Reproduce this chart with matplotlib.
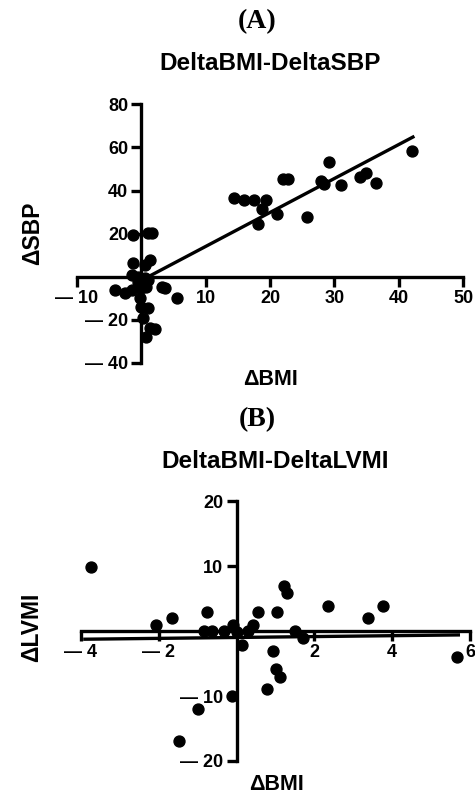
import numpy as np
import matplotlib.pyplot as plt

plt.rcParams['font.family'] = ['Liberation Sans', 'DejaVu Sans']
plt.rcParams['font.weight'] = 'bold'

# (A) DeltaBMI vs DeltaSBP
bmiA = [14.4, 15.9, 17.5, 19.3, 18.7, 18.2, 21.1, 22.0, 22.8, 25.8, 27.9, 28.4,
        29.2, 31.0, 33.9, 34.9, 36.5, 42.1,
        -1.25, 1.1, 1.6, -1.25, 1.4, 0.6, -1.5, -0.5, 0.6, 1.1, -0.5,
        -4.1, -2.5, -1.5, 0.0, 0.8, 3.2, 3.7, 5.5, -0.2, 0.0, 1.1, 0.3,
        1.4, 2.1, 0.8]
sbpA = [36.3, 35.5, 35.5, 35.5, 31.2, 24.4, 29.3, 45.2, 45.2, 27.5, 44.4, 43.2,
        53.2, 42.4, 46.3, 48.1, 43.5, 58.3,
        19.3, 20.4, 20.4, 6.2, 7.7, 5.4, 0.8, 0.0, -0.8, -1.5, -2.3,
        -6.2, -7.7, -6.2, -5.4, -4.6, -4.6, -5.4, -9.7, -10.0, -13.9, -14.6, -19.3,
        -23.9, -24.4, -27.8]
fitA_x = [0.0, 42.2]
fitA_y = [-1.7, 64.8]

# (B) DeltaBMI vs DeltaLVMI
bmiB = [-3.73, -2.06, -1.67, -0.76, -0.84, -0.62, -0.33, -0.10, 0.02, 0.15,
        0.30, 0.43, 0.54, 1.04, 1.22, 1.30, 0.93, 1.00, 1.11, 0.77, 1.50, 1.70,
        2.36, 3.38, 3.77, 5.66, -0.11, -0.99, -1.48]
lvmiB = [9.97, 0.97, 2.0, 3.03, 0.1, 0.1, 0.1, 0.97, -0.05, -2.1,
         0.1, 0.97, 3.03, 3.03, 7.04, 5.96, -2.99, -5.87, -7.0, -8.96, 0.1, -1.08,
         3.96, 2.0, 3.96, -4.0, -9.98, -12.0, -16.9]
fitB_x = [-3.9, 5.7]
fitB_y = [-1.23, -0.57]


def style(ax, xlim, ylim, xticks, xlabels, yticks, ylabels):
    ax.set_xlim(xlim)
    ax.set_ylim(ylim)
    for s in ['top', 'right']:
        ax.spines[s].set_visible(False)
    ax.spines['left'].set_position(('data', 0))
    ax.spines['bottom'].set_position(('data', 0))
    ax.spines['left'].set_linewidth(2.4)
    ax.spines['bottom'].set_linewidth(2.4)
    ax.set_xticks(xticks)
    ax.set_xticklabels(xlabels)
    ax.set_yticks(yticks)
    ax.set_yticklabels(ylabels)
    ax.tick_params(length=7.5, width=2.4, labelsize=13, pad=2)
    for t in ax.get_xticklabels() + ax.get_yticklabels():
        t.set_fontweight('bold')


fig = plt.figure(figsize=(4.75, 7.96), dpi=100)

axA = fig.add_axes([0.162, 0.544, 0.813, 0.325])
axA.scatter(bmiA, sbpA, s=62, color='black', zorder=3, clip_on=False)
axA.plot(fitA_x, fitA_y, color='black', lw=2.4)
style(axA, (-10, 50), (-40, 80),
      [-10, 10, 20, 30, 40, 50], ['\u2014 10', '10', '20', '30', '40', '50'],
      [-40, -20, 20, 40, 60, 80], ['\u2014 40', '\u2014 20', '20', '40', '60', '80'])

axB = fig.add_axes([0.1705, 0.044, 0.819, 0.326])
axB.scatter(bmiB, lvmiB, s=62, color='black', zorder=3, clip_on=False)
axB.plot(fitB_x, fitB_y, color='black', lw=2.4)
style(axB, (-4, 6), (-20, 20),
      [-4, -2, 2, 4, 6], ['\u2014 4', '\u2014 2', '2', '4', '6'],
      [-20, -10, 10, 20], ['\u2014 20', '\u2014 10', '10', '20'])

fig.text(257 / 475, 1 - 22 / 796, '(A)', ha='center', va='center',
         family='Liberation Serif', fontweight='bold', fontsize=20)
fig.text(270 / 475, 1 - 63 / 796, 'DeltaBMI-DeltaSBP', ha='center', va='center',
         fontweight='bold', fontsize=17.5)
fig.text(33 / 475, 1 - 233 / 796, '\u0394SBP', ha='center', va='center',
         rotation=90, fontweight='bold', fontsize=16.5)
fig.text(270 / 475, 1 - 380 / 796, '\u0394BMI', ha='center', va='center',
         fontweight='bold', fontsize=15.5)

fig.text(257 / 475, 1 - 420 / 796, '(B)', ha='center', va='center',
         family='Liberation Serif', fontweight='bold', fontsize=20)
fig.text(275 / 475, 1 - 462 / 796, 'DeltaBMI-DeltaLVMI', ha='center', va='center',
         fontweight='bold', fontsize=17.5)
fig.text(32 / 475, 1 - 627 / 796, '\u0394LVMI', ha='center', va='center',
         rotation=90, fontweight='bold', fontsize=16.5)
fig.text(276 / 475, 1 - 785 / 796, '\u0394BMI', ha='center', va='center',
         fontweight='bold', fontsize=15.5)

fig.savefig('out.png', dpi=100)
